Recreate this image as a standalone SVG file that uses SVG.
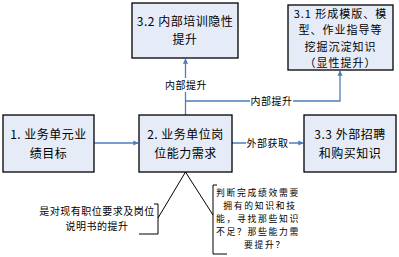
<svg xmlns="http://www.w3.org/2000/svg" width="399" height="257" viewBox="0 0 399 257">
<style>
.box{fill:#E6ECF7;stroke:#000;stroke-width:1.3}
.t{font-family:"Noto Sans CJK SC","Noto Sans",sans-serif;font-size:12px;letter-spacing:0.5px;fill:#000;text-anchor:middle}
.t3{font-family:"Noto Sans CJK SC","Noto Sans",sans-serif;font-size:11px;letter-spacing:1px;fill:#000;text-anchor:middle}
.s{font-family:"Noto Sans CJK SC","Noto Sans",sans-serif;font-size:10px;letter-spacing:0.5px;fill:#000;text-anchor:middle}
.s2{font-family:"Noto Sans CJK SC","Noto Sans",sans-serif;font-size:8.8px;letter-spacing:1.7px;fill:#000;text-anchor:middle}
.c{fill:none;stroke:#4A7EBB;stroke-width:1.3}
.k{fill:none;stroke:#000;stroke-width:1}
.lbl{fill:#fff}
</style>
<defs>
<marker id="ah" viewBox="0 0 10 10" refX="9" refY="5" markerWidth="4" markerHeight="4" orient="auto" markerUnits="strokeWidth">
<path d="M0,0 L10,5 L0,10 z" fill="#4A7EBB"/>
</marker>
</defs>
<g id="connectors">
<line class="c" x1="94" y1="143" x2="138" y2="143" marker-end="url(#ah)"/>
<line class="c" x1="232" y1="143" x2="303" y2="143" marker-end="url(#ah)"/>
<rect class="lbl" x="246" y="136" width="43" height="14"/>
<text class="s" x="267.5" y="147">外部获取</text>
<line class="c" x1="185.5" y1="115" x2="185.5" y2="59" marker-end="url(#ah)"/>
<rect class="lbl" x="165" y="78" width="42" height="14"/>
<text class="s" x="186" y="89">内部提升</text>
<polyline class="c" points="185.5,101 340,101 340,71" marker-end="url(#ah)"/>
<rect class="lbl" x="250" y="94" width="43" height="14"/>
<text class="s" x="271.5" y="105">内部提升</text>
<polyline class="k" points="158,218 185.5,172 213,215"/>
</g>
<g id="n32">
<rect class="box" x="132" y="3" width="106" height="55"/>
<text class="t" x="185" y="26">3.2 内部培训隐性</text>
<text class="t" x="185" y="44">提升</text>
</g>
<g id="n31">
<rect class="box" x="288" y="5" width="105" height="65"/>
<text class="t3" x="340.5" y="18">3.1 形成模版、模</text>
<text class="t3" x="340.5" y="34.4">型、作业指导等</text>
<text class="t3" x="340.5" y="50.8">挖掘沉淀知识</text>
<text class="t3" x="340.5" y="67.2">（显性提升）</text>
</g>
<g id="n1">
<rect class="box" x="3" y="115" width="91" height="57"/>
<text class="t" x="48.5" y="139">1. 业务单元业</text>
<text class="t" x="48.5" y="157.5">绩目标</text>
</g>
<g id="n2">
<rect class="box" x="139" y="115" width="93" height="57"/>
<text class="t" x="185.5" y="139">2. 业务单位岗</text>
<text class="t" x="185.5" y="157.5">位能力需求</text>
</g>
<g id="n33">
<rect class="box" x="304" y="115" width="92" height="57"/>
<text class="t" x="350" y="139">3.3  外部招聘</text>
<text class="t" x="350" y="157.5">和购买知识</text>
</g>
<g id="callout1">
<polyline class="k" points="154,204 158,204 158,234 139,234"/>
<text class="s" x="97" y="215">是对现有职位要求及岗位</text>
<text class="s" x="97" y="230">说明书的提升</text>
</g>
<g id="callout2">
<polyline class="k" points="217,185 213,185 213,254 227,254"/>
<text class="s2" x="258" y="196">判断完成绩效需要</text>
<text class="s2" x="260" y="209">拥有的知识和技</text>
<text class="s2" x="258" y="222">能，寻找那些知识</text>
<text class="s2" x="258" y="235">不足？那些能力需</text>
<text class="s2" x="265" y="248">要提升？</text>
</g>
</svg>
